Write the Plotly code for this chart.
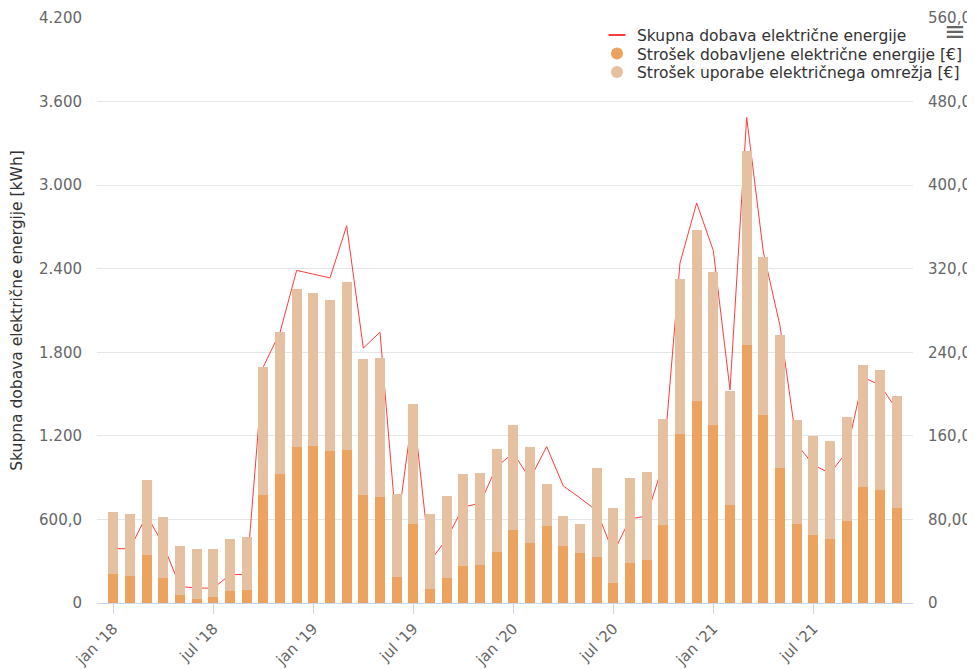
import plotly.graph_objects as go

month_names = ["jan", "feb", "mar", "apr", "maj", "jun", "jul", "avg", "sep", "okt", "nov", "dec"]
years = ["18", "19", "20", "21"]
months = [f"{m} '{y}" for y in years for m in month_names]

# Skupna dobava električne energije [kWh]
energy_kwh = [390, 390, 631, 417, 119, 107, 107, 202, 207, 1696, 1943, 2388,
              2361, 2334, 2708, 1830, 1945, 510, 1400, 300, 460, 690, 715, 978,
              1077, 890, 1123, 840, 754, 663, 360, 604, 624, 1000, 2442, 2872,
              2530, 1530, 3487, 2520, 1990, 1140, 993, 930, 1084, 1620, 1565, 1390]

# Strošek dobavljene električne energije [€]
cost_energy = [28.2, 26.0, 46.0, 23.5, 7.9, 4.1, 5.4, 11.1, 12.1, 103.0, 123.7, 149.0,
               150.0, 145.1, 146.4, 103.5, 101.4, 24.5, 75.8, 13.2, 23.8, 35.6, 36.6, 48.7,
               69.5, 57.7, 73.4, 54.4, 47.9, 43.7, 19.4, 37.9, 41.5, 74.5, 161.9, 193.7,
               170.7, 93.9, 247.1, 179.5, 129.6, 75.6, 65.3, 61.6, 78.2, 111.3, 107.8, 91.0]

# Strošek uporabe električnega omrežja [€]
cost_network = [59.3, 59.0, 71.5, 58.7, 46.7, 47.3, 46.0, 50.5, 50.8, 123.1, 135.4, 151.6,
                147.0, 145.4, 161.0, 130.2, 133.4, 80.1, 115.0, 72.1, 78.4, 88.1, 88.1, 98.6,
                101.2, 91.3, 40.5, 28.8, 28.2, 85.2, 71.3, 81.9, 84.2, 102.0, 148.7, 163.1,
                146.5, 109.2, 185.5, 151.7, 126.9, 99.5, 94.5, 93.6, 100.1, 116.3, 115.4, 107.1]

x_ticks = [m for m in months if m.startswith("jan") or m.startswith("jul")]
left_tickvals = [0, 600, 1200, 1800, 2400, 3000, 3600, 4200]
left_ticktext = ["0", "600,0", "1.200", "1.800", "2.400", "3.000", "3.600", "4.200"]
right_tickvals = [0, 80, 160, 240, 320, 400, 480, 560]
right_ticktext = ["0", "80,00", "160,0", "240,0", "320,0", "400,0", "480,0", "560,0"]

C_LINE = "#ff3b3b"
C_DARK = "#eba35f"
C_LIGHT = "#e5c1a1"
FONT = "DejaVu Sans"

# page body has an 8px default margin -> compensate so that the plot area
# lands at x 97..913, y 18..603 in the screenshot
OFF = 8
W, H = 975, 670
L, T = 97 - OFF, 18 - OFF
PW, PH = 816, 585
R = W - L - PW
B = H - T - PH


def px_x(x):
    return (x - OFF - L) / PW


def px_y(y):
    return 1 - (y - OFF - T) / PH


fig = go.Figure()
fig.add_trace(go.Scatter(x=months, y=energy_kwh, mode="lines", name="Skupna dobava električne energije",
                         line=dict(color=C_LINE, width=1), yaxis="y", showlegend=False))
fig.add_trace(go.Bar(x=months, y=cost_energy, marker=dict(color=C_DARK, line=dict(width=0)),
                     yaxis="y2", showlegend=False, name="Strošek dobavljene električne energije [€]"))
fig.add_trace(go.Bar(x=months, y=cost_network, marker=dict(color=C_LIGHT, line=dict(width=0)),
                     yaxis="y2", showlegend=False, name="Strošek uporabe električnega omrežja [€]"))
# legend entries (short line and round symbols, as in the original)
fig.add_trace(go.Scatter(x=[None], y=[None], mode="markers", name="Skupna dobava električne energije",
                         marker=dict(color=C_LINE, size=18, symbol="line-ew-open",
                                     line=dict(color=C_LINE, width=1.5)), yaxis="y", legend="legend"))
fig.add_trace(go.Scatter(x=[None], y=[None], mode="markers", name="Strošek dobavljene električne energije [€]",
                         marker=dict(color=C_DARK, size=12, symbol="circle"), yaxis="y", legend="legend2"))
fig.add_trace(go.Scatter(x=[None], y=[None], mode="markers", name="Strošek uporabe električnega omrežja [€]",
                         marker=dict(color=C_LIGHT, size=12, symbol="circle"), yaxis="y", legend="legend3"))

leg_common = dict(xanchor="left", yanchor="top", bgcolor="rgba(0,0,0,0)",
                  font=dict(size=15.5, color="#333333", family=FONT),
                  itemsizing="constant", itemwidth=30)

fig.update_layout(
    width=W, height=H,
    margin=dict(l=L, r=R, t=T, b=B, autoexpand=False),
    paper_bgcolor="white", plot_bgcolor="white",
    font=dict(family=FONT, color="#666666", size=14),
    barmode="stack", bargap=0.4,
    showlegend=True,
    legend=dict(x=px_x(597), y=px_y(18.5), **leg_common),
    legend2=dict(x=px_x(597), y=px_y(37), **leg_common),
    legend3=dict(x=px_x(597), y=px_y(55.5), **leg_common),
    xaxis=dict(type="category", categoryorder="array", categoryarray=months,
               range=[-0.98, 47.98], tickmode="array", tickvals=x_ticks, ticktext=x_ticks,
               tickangle=-45, ticks="outside", ticklen=10, tickcolor="#ccd6eb",
               showline=True, linecolor="#ccd6eb", linewidth=1, showgrid=False,
               tickfont=dict(size=15, color="#666666"), zeroline=False, automargin=False),
    yaxis=dict(range=[0, 4200], tickmode="array", tickvals=left_tickvals, ticktext=left_ticktext,
               showgrid=True, gridcolor="#e6e6e6", gridwidth=1, zeroline=False, showline=False,
               ticklabelstandoff=14, automargin=False,
               title=dict(text="Skupna dobava električne energije [kWh]", font=dict(size=15.5, color="#333333"),
                          standoff=12),
               tickfont=dict(size=15, color="#666666")),
    yaxis2=dict(range=[0, 560], overlaying="y", side="right", tickmode="array",
                tickvals=right_tickvals, ticktext=right_ticktext, showgrid=False, zeroline=False,
                ticklabelstandoff=14, automargin=False, tickfont=dict(size=15, color="#666666")),
    annotations=[dict(text="≡", x=px_x(955), y=px_y(31), xref="paper", yref="paper",
                      showarrow=False, xanchor="center", yanchor="middle",
                      font=dict(size=26, color="#666666"))],
)

fig.write_html("out.html")
